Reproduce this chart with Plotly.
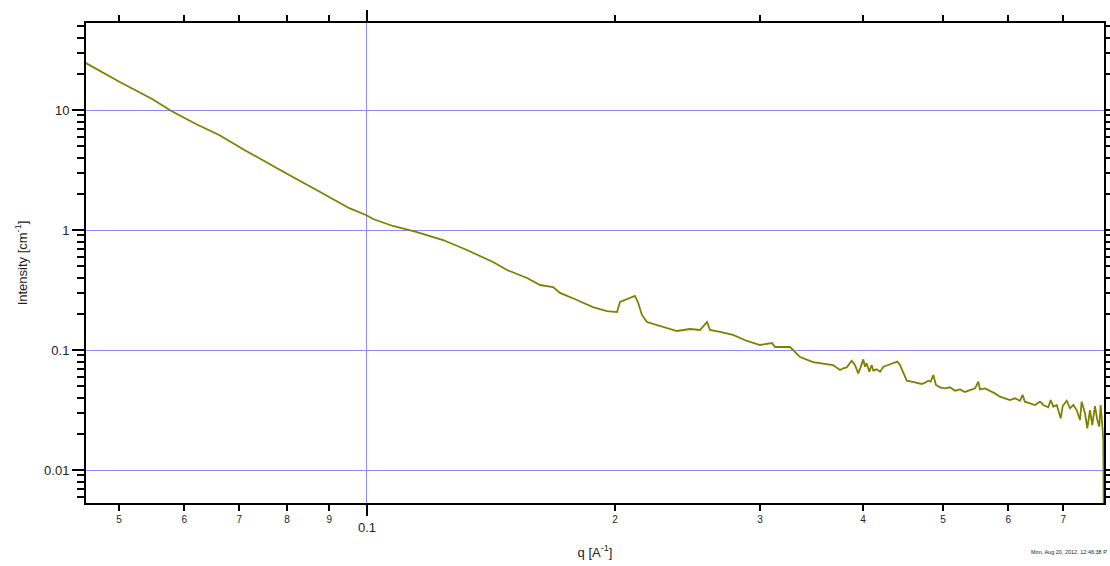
import plotly.graph_objects as go

# ---- data (q in 1/A, intensity in 1/cm) ----
q_low = [0.0456, 0.05005, 0.05493, 0.05782, 0.06200, 0.06616, 0.07066, 0.07541,
         0.07975, 0.08752, 0.09517, 0.1000]
i_low = [24.6, 17.21, 12.28, 9.87, 7.64, 6.19, 4.73, 3.71,
         2.97, 2.09, 1.52, 1.32]

q_mid = [0.1017, 0.1075, 0.1144, 0.1237, 0.1322, 0.1422, 0.1479, 0.1564, 0.1622,
         0.1682, 0.1715, 0.1798, 0.1880, 0.1955, 0.2011, 0.2028, 0.2085, 0.2114,
         0.2132, 0.2156, 0.2187, 0.2249, 0.2312, 0.2378, 0.2466, 0.2536, 0.2586,
         0.2608, 0.2682, 0.2781, 0.2892, 0.2999, 0.3101, 0.3127, 0.3261, 0.3354,
         0.3478, 0.3677]
i_mid = [1.235, 1.080, 0.968, 0.825, 0.681, 0.541, 0.464, 0.398, 0.348,
         0.335, 0.299, 0.261, 0.228, 0.211, 0.207, 0.251, 0.271, 0.282,
         0.251, 0.196, 0.171, 0.1616, 0.1526, 0.1440, 0.1496, 0.1468, 0.171,
         0.1468, 0.1413, 0.1334, 0.1189, 0.1101, 0.1144, 0.1059, 0.1059, 0.0874,
         0.0794, 0.0750]

q_high = [0.3750, 0.3784, 0.3821, 0.3874, 0.3910, 0.3946, 0.3972, 0.4002, 0.4021,
          0.4040, 0.4070, 0.4097, 0.4116, 0.4155, 0.4194, 0.4233, 0.4292, 0.4352,
          0.4401, 0.4434, 0.4476, 0.4519, 0.4581, 0.4646, 0.4711, 0.4755, 0.4799,
          0.4831, 0.4867, 0.4903, 0.4959, 0.5029, 0.5099, 0.5171, 0.5244, 0.5317,
          0.5392, 0.5469, 0.5519, 0.5545, 0.5623, 0.5702, 0.5781, 0.5863, 0.5946,
          0.6029, 0.6114, 0.6200, 0.6247, 0.6286, 0.6375, 0.6466, 0.6556, 0.6618,
          0.6711, 0.6756, 0.6806, 0.6871, 0.6948, 0.6987, 0.7065, 0.7132, 0.7198,
          0.7265, 0.7333, 0.7367, 0.7436, 0.7484, 0.7540, 0.7588, 0.7646, 0.7696,
          0.7738, 0.7769, 0.7812, 0.7826, 0.7835]
i_high = [0.0681, 0.0704, 0.0717, 0.0815, 0.0750, 0.0639, 0.0717, 0.0836, 0.0726,
          0.0774, 0.0660, 0.0750, 0.0673, 0.0690, 0.0660, 0.0726, 0.0750, 0.0774,
          0.0799, 0.0750, 0.0639, 0.0555, 0.0545, 0.0534, 0.0521, 0.0534, 0.0555,
          0.0545, 0.0619, 0.0511, 0.0489, 0.0479, 0.0489, 0.0458, 0.0470, 0.0447,
          0.0464, 0.0479, 0.0545, 0.0470, 0.0479, 0.0458, 0.0435, 0.0408, 0.0396,
          0.0383, 0.0396, 0.0378, 0.0422, 0.0371, 0.0359, 0.0348, 0.0371, 0.0348,
          0.0333, 0.0383, 0.0337, 0.0348, 0.0270, 0.0341, 0.0378, 0.0327, 0.0348,
          0.0316, 0.0261, 0.0371, 0.0297, 0.0222, 0.0316, 0.0237, 0.0341, 0.0261,
          0.0230, 0.0348, 0.0215, 0.0178, 0.0040]

q_values = q_low + q_mid + q_high
intensity = i_low + i_mid + i_high

# axis ticks
x_major_vals = [0.1]
x_major_text = ["0.1"]
x_minor_vals = [0.05, 0.06, 0.07, 0.08, 0.09, 0.2, 0.3, 0.4, 0.5, 0.6, 0.7]
x_minor_text = ["5", "6", "7", "8", "9", "2", "3", "4", "5", "6", "7"]
y_major_vals = [0.01, 0.1, 1, 10]
y_major_text = ["0.01", "0.1", "1", "10"]
y_minor_vals = ([0.006, 0.007, 0.008, 0.009]
                + [k * 0.01 for k in range(2, 10)]
                + [k * 0.1 for k in range(2, 10)]
                + [k * 1.0 for k in range(2, 10)]
                + [20.0, 30.0, 40.0, 50.0])

timestamp = "Mon, Aug 20, 2012, 12:46:38 P"

X_RANGE = [-1.341, -0.1056]
Y_RANGE = [-2.275, 1.725]
FONT = "Arial, 'Liberation Sans', sans-serif"
GRID = "#8a8aff"
TXT = "#222"

fig = go.Figure()
fig.add_trace(go.Scatter(x=q_values, y=intensity, mode="lines",
                         line=dict(color="#808000", width=1.8),
                         xaxis="x", yaxis="y", showlegend=False))
# empty trace to register the minor-label axis
fig.add_trace(go.Scatter(x=[], y=[], xaxis="x2", yaxis="y", showlegend=False,
                         hoverinfo="skip"))

fig.update_layout(
    width=1110, height=566, autosize=False,
    margin=dict(l=86, r=6, t=23, b=63, autoexpand=False),
    paper_bgcolor="white", plot_bgcolor="white",
    font=dict(family=FONT, color="black"),
    showlegend=False,
    xaxis=dict(
        type="log", range=X_RANGE, autorange=False,
        tickmode="array", tickvals=x_major_vals, ticktext=x_major_text,
        ticks="outside", ticklen=11, tickwidth=2, tickcolor="black",
        showline=True, linewidth=2, linecolor="black", mirror="ticks",
        showgrid=True, gridcolor=GRID, gridwidth=1, zeroline=False,
        tickfont=dict(size=13, family=FONT, color=TXT),
        title=dict(text="q [A<sup>-1</sup>]", font=dict(size=13, family=FONT, color=TXT),
                   standoff=14),
    ),
    xaxis2=dict(
        type="log", range=X_RANGE, autorange=False, overlaying="x", anchor="y",
        side="bottom",
        tickmode="array", tickvals=x_minor_vals, ticktext=x_minor_text,
        ticks="outside", ticklen=7, tickwidth=2, tickcolor="black",
        showline=False, mirror="ticks",
        showgrid=False, zeroline=False,
        tickfont=dict(size=10, family=FONT, color=TXT),
    ),
    yaxis=dict(
        type="log", range=Y_RANGE, autorange=False,
        tickmode="array", tickvals=y_major_vals, ticktext=y_major_text,
        ticks="outside", ticklen=12, tickwidth=2, tickcolor="black",
        showline=True, linewidth=2, linecolor="black", mirror="ticks",
        showgrid=True, gridcolor=GRID, gridwidth=1, zeroline=False,
        minor=dict(tickvals=y_minor_vals, ticks="outside", ticklen=7,
                   tickwidth=2, tickcolor="black", showgrid=False),
        tickfont=dict(size=13, family=FONT, color=TXT),
        title=dict(text="Intensity [cm<sup>-1</sup>]",
                   font=dict(size=13, family=FONT, color=TXT), standoff=14),
    ),
    annotations=[dict(
        text=timestamp, xref="paper", yref="paper",
        x=1.0045, y=-0.102, xanchor="right", yanchor="middle", showarrow=False,
        font=dict(size=5.5, family=FONT, color=TXT),
    )],
)

fig.write_html(
    "out.html",
    config={"responsive": False, "displayModeBar": False},
    post_script=("document.body.style.margin='0px';"
                 "document.body.style.padding='0px';"
                 "document.documentElement.style.overflow='hidden';"
                 "document.body.style.overflow='hidden';"),
)
